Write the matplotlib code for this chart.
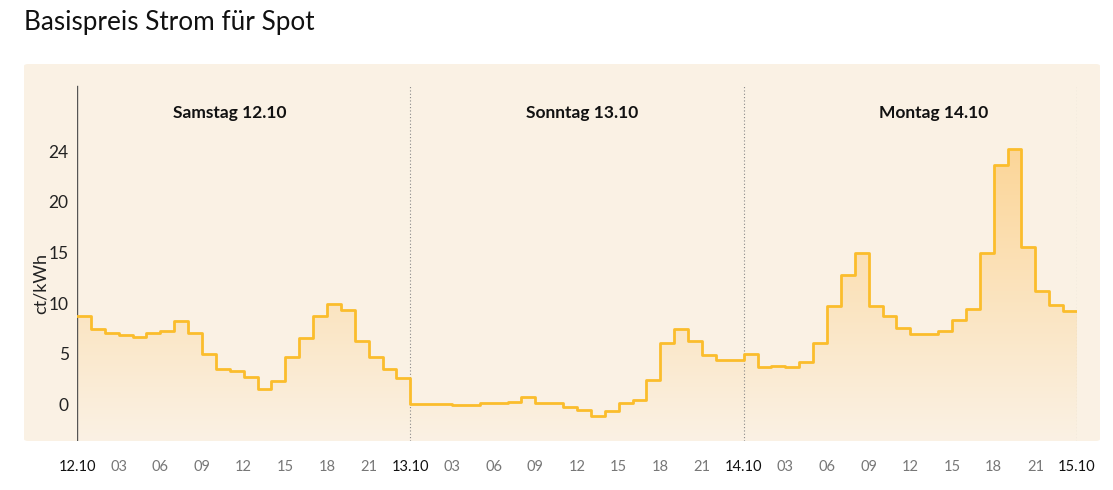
import numpy as np
import matplotlib
matplotlib.use('Agg')
import matplotlib.pyplot as plt
from matplotlib.colors import LinearSegmentedColormap
from matplotlib.patches import FancyBboxPatch

plt.rcParams['font.family'] = ['Lato', 'DejaVu Sans']

# Stundenpreise (ct/kWh), je 24 Werte pro Tag
samstag = [8.76, 7.38, 7.05, 6.82, 6.66, 6.99, 7.18, 8.24, 7.05, 4.94, 3.43, 3.26,
           2.64, 1.48, 2.24, 4.68, 6.52, 8.67, 9.95, 9.32, 6.26, 4.61, 3.49, 2.54]
sonntag = [0.0, 0.0, 0.0, -0.13, -0.13, 0.13, 0.13, 0.23, 0.69, 0.07, 0.07, -0.26,
           -0.59, -1.19, -0.66, 0.07, 0.40, 2.37, 6.00, 7.38, 6.26, 4.81, 4.38, 4.38]
montag = [4.94, 3.62, 3.79, 3.66, 4.15, 6.06, 9.72, 12.82, 14.96, 9.72, 8.76, 7.55,
          6.92, 6.92, 7.25, 8.34, 9.42, 14.96, 23.62, 25.24, 15.52, 11.20, 9.79, 9.23]

day_labels = ['Samstag 12.10', 'Sonntag 13.10', 'Montag 14.10']
date_labels = ['12.10', '13.10', '14.10', '15.10']
hour_labels = ['03', '06', '09', '12', '15', '18', '21']
ytick_vals = [0, 5, 10, 15, 20, 25]
ytick_labels = ['0', '5', '10', '15', '20', '24']

prices = np.array(samstag + sonntag + montag)
x = np.arange(len(prices) + 1)
y = np.append(prices, prices[-1])

line_color = '#fbbd2c'
panel_color = '#faf1e4'

fig = plt.figure(figsize=(11.13, 4.90), dpi=100)
fig.patch.set_facecolor('white')

# Hintergrund-Panel
panel = FancyBboxPatch((24 / 1113, 49 / 490), 1076 / 1113, 377 / 490,
                       boxstyle='round,pad=0,rounding_size=0.004',
                       transform=fig.transFigure, facecolor=panel_color,
                       edgecolor='none', zorder=-5)
fig.patches.append(panel)

fig.text(24 / 1113, 1 - 30 / 490, 'Basispreis Strom für Spot', fontsize=18.8,
         color='#111111', va='baseline', ha='left')

ax = fig.add_axes([77 / 1113, 49 / 490, 1000 / 1113, 377 / 490])
ax.set_facecolor('none')
ax.set_zorder(1)

# Fläche mit Farbverlauf
fill = ax.fill_between(x, y, -3.66, step='post', color='none', lw=0)
cmap = LinearSegmentedColormap.from_list('grad', [panel_color, '#fcd596'])
grad = np.linspace(0, 1, 256).reshape(-1, 1)
img = ax.imshow(grad, extent=[0, 72, -3.66, 26], origin='lower', aspect='auto',
                cmap=cmap, zorder=1)
img.set_clip_path(fill.get_paths()[0], transform=ax.transData)
ax.set_xlim(0, 72)
ax.set_ylim(-3.66, 33.66)

ax.step(x, y, where='post', color=line_color, lw=2, zorder=3)

# Tagesgrenzen
top = (441 - 86) / 377
for i in range(4):
    if i == 0:
        ax.axvline(0, ymin=0, ymax=top, color='#555555', lw=1, zorder=2)
    else:
        ax.axvline(24 * i, ymin=0, ymax=top, color='#888888', lw=0.8,
                   ls=(0, (1, 2)), zorder=2)

label_pos = [10.98, 36.36, 61.7]
for lbl, xp in zip(day_labels, label_pos):
    ax.text(xp, 28.84, lbl, ha='center', va='center', fontsize=12.5,
            fontweight='bold', color='#111111')

xt = np.arange(0, 73, 3)
xl = []
for d in range(3):
    xl.append(date_labels[d])
    xl.extend(hour_labels)
xl.append(date_labels[3])
ax.set_xticks(xt)
ax.set_xticklabels(xl, fontsize=10.5)
for t, lbl in zip(ax.get_xticklabels(), xl):
    t.set_color('#111111' if '.' in lbl else '#777777')
ax.tick_params(axis='x', length=0, pad=14)

ax.set_yticks(ytick_vals)
ax.set_yticklabels(ytick_labels, fontsize=12.5, color='#222222')
ax.tick_params(axis='y', length=0, pad=6)

ax.text(-0.036, 0.419, 'ct/kWh', transform=ax.transAxes, rotation=90,
        ha='center', va='center', fontsize=13, color='#222222')

for s in ax.spines.values():
    s.set_visible(False)

fig.savefig('out.png', dpi=100)
